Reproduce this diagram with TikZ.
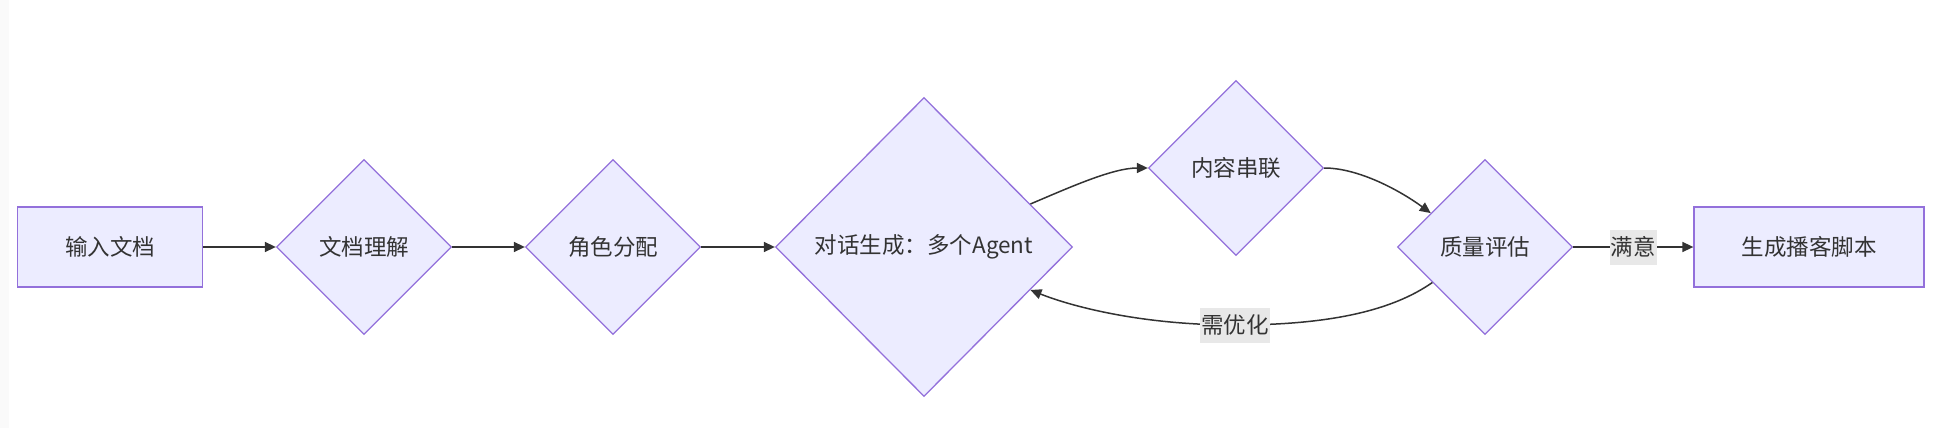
\documentclass[tikz,border=0pt]{standalone}
\usepackage{fontspec}
\setmainfont{Noto Sans CJK SC}
\usetikzlibrary{shapes.geometric,arrows.meta}
\definecolor{nodefill}{HTML}{ECECFF}
\definecolor{nodeline}{HTML}{9370DB}
\definecolor{edgeline}{HTML}{333333}
\definecolor{txt}{HTML}{333333}
\definecolor{lblbg}{HTML}{E8E8E8}
\begin{document}
\begin{tikzpicture}[x=1pt,y=-1pt,
  every node/.style={font=\fontsize{22.5}{26}\selectfont, text=txt},
  boxnode/.style={draw=nodeline, fill=nodefill, line width=1.3pt, rectangle, minimum height=80pt, inner sep=0pt},
  dnode/.style={draw=nodeline, fill=nodefill, line width=1.3pt, diamond, inner sep=0pt, minimum width=175pt, minimum height=175pt},
  edge/.style={draw=edgeline, line width=1.5pt, -{Triangle[length=11pt,width=10pt]}},
  elabel/.style={fill=lblbg, inner xsep=1pt, inner ysep=0pt, minimum height=35pt}
]
\useasboundingbox (0,0) rectangle (1943,428);
\fill[black!2] (0,0) rectangle (9,428);

\node[boxnode, minimum width=185pt] (in) at (110,247) {输入文档};
\node[dnode] (d1) at (364,247) {文档理解};
\node[dnode] (d2) at (613,247) {角色分配};
\node[dnode, minimum width=297pt, minimum height=299pt] (d3) at (924,247) {对话生成：多个Agent};
\node[dnode] (d4) at (1236,168) {内容串联};
\node[dnode] (d5) at (1485,247) {质量评估};
\node[boxnode, minimum width=230pt] (out) at (1809,247) {生成播客脚本};
\coordinate (m) at (1235,325);

\draw[edge] (in.east) -- (d1.west);
\draw[edge] (d1.east) -- (d2.west);
\draw[edge] (d2.east) -- (d3.west);
\draw[edge] (d3.22) .. controls +(40,-17) and +(-35,0) .. (d4.west);
\draw[edge] (d4.east) .. controls +(35,0) and +(-30,-22) .. (d5.148);
\draw[edge] (d5.214) .. controls +(-40,28) and +(95,0) .. (m) .. controls +(-95,0) and +(40,16) .. (d3.-22);
\draw[edge] (d5.east) -- node[elabel] (l1) {满意} (out.west);
\node[elabel] (l2) at (m) {需优化};
\end{tikzpicture}
\end{document}
